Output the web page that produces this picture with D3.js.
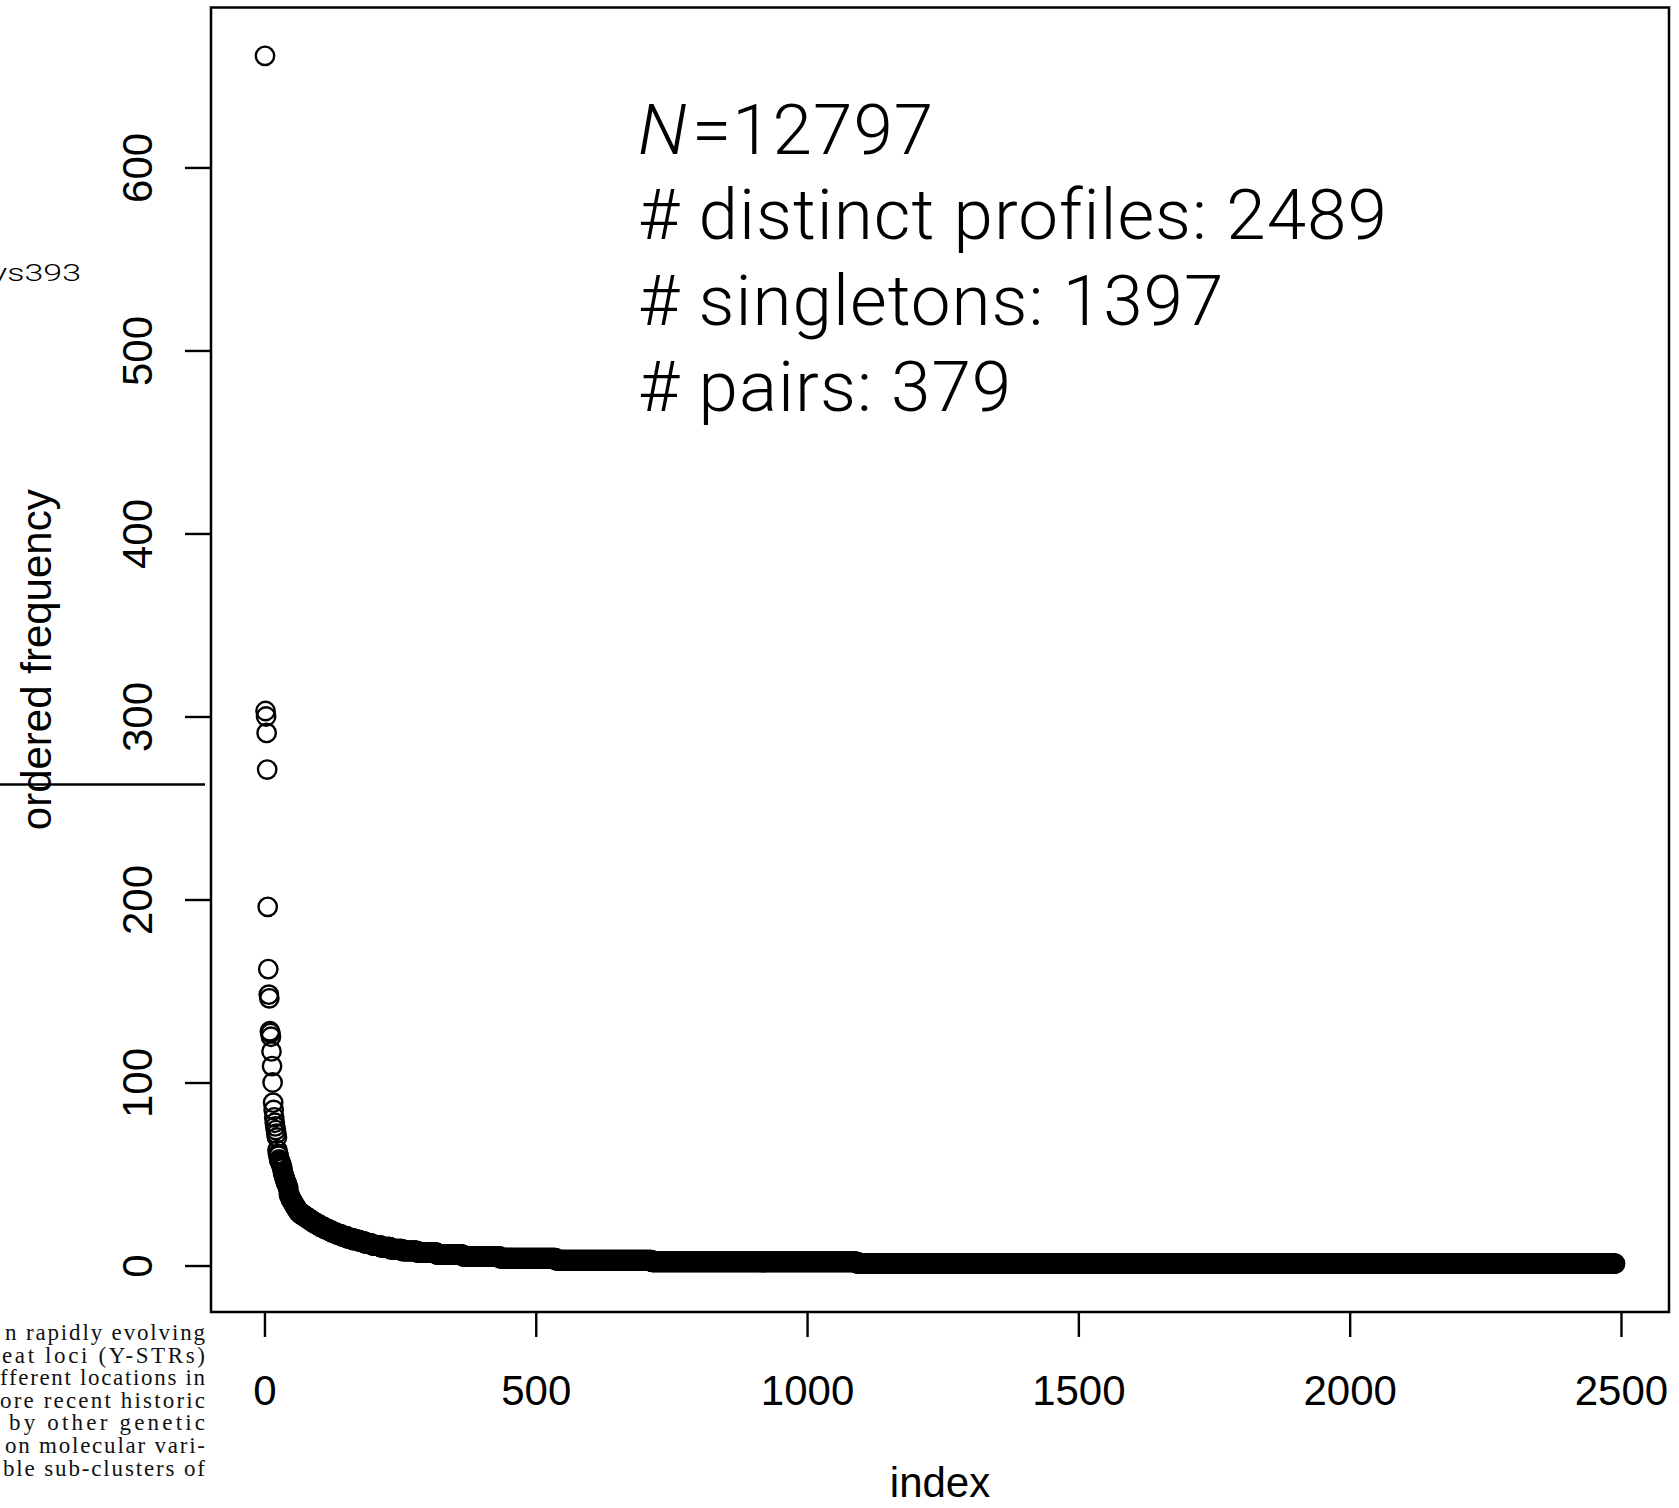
<!DOCTYPE html>
<html>
<head>
<meta charset="utf-8">
<title>ordered frequency</title>
<script src="https://cdn.jsdelivr.net/npm/d3@7"></script>
<style>
  body { margin: 0; background: #fff; }
  svg { display: block; }
</style>
</head>
<body>
<div id="chart"></div>
<script>

// largest profiles
var topFreq = [661, 303, 300, 291, 271, 196, 162, 148, 146, 128, 127, 125, 117, 109,
  100, 89, 85, 81, 78, 76, 74, 72, 70, 63, 61, 60, 58, 57];

// the rest as a frequency table: frequency -> how many profiles have it
var tailFreq = [57, 56, 55, 54, 53, 51, 50, 49, 48, 47, 46, 45, 44, 43, 42, 39, 38, 37,
  36, 35, 34, 33, 32, 31, 30, 29, 28, 27, 26, 25, 24, 23, 22, 21, 20, 19, 18, 17, 16, 15,
  14, 13, 12, 11, 10, 9, 8, 7, 6, 5, 4, 3, 2, 1];
var tailCount = [1, 1, 1, 1, 1, 1, 1, 1, 1, 1, 1, 2, 1, 1, 1, 1, 2, 1,
  2, 2, 2, 2, 2, 2, 2, 4, 5, 5, 5, 5, 5, 6, 6, 7, 7, 7, 8, 9, 10, 11,
  12, 11, 13, 15, 18, 22, 28, 36, 48, 68, 103, 177, 379, 1397];

var xTicks = [0, 500, 1000, 1500, 2000, 2500];
var yTicks = [0, 100, 200, 300, 400, 500, 600];

var notes = ["# distinct profiles: 2489", "# singletons: 1397", "# pairs: 379"];

// bits of the surrounding page that show in the crop
var pageLines = ["n rapidly evolving", "eat loci (Y-STRs)", "fferent locations in",
  "ore recent historic", "by other genetic", "on molecular vari-", "ble sub-clusters of"];
var pageStarts = [5, 2, 0, 0, 9, 5, 3];

var freq = topFreq.slice();
tailFreq.forEach(function(f, i) {
  for (var k = 0; k < tailCount[i]; k++) freq.push(f);
});
var data = freq.map(function(f, i) { return {index: i + 1, freq: f}; });

var W = 1679, H = 1508;
var box = {left: 211, right: 1669, top: 7.5, bottom: 1312};
var sans = "'Liberation Sans', Arial, Helvetica, sans-serif";
var light = "Roboto, 'Liberation Sans', Arial, sans-serif";

var svg = d3.select("#chart").append("svg")
  .attr("width", W)
  .attr("height", H);

// R style 4% padding around the data range
var n = data.length;
var xPad = (n - 1) * 0.04, yMax = d3.max(freq), yPad = (yMax - 1) * 0.04;
var x = d3.scaleLinear().domain([1 - xPad, n + xPad]).range([box.left, box.right]);
var y = d3.scaleLinear().domain([1 - yPad, yMax + yPad]).range([box.bottom, box.top]);

// page fragments
svg.append("text")
  .attr("x", -9).attr("y", 281)
  .attr("textLength", 90)
  .attr("lengthAdjust", "spacingAndGlyphs")
  .style("font-family", light).style("font-weight", 300).style("font-size", "23px")
  .text("ys393");

svg.append("line")
  .attr("x1", 0).attr("x2", 205)
  .attr("y1", 784.5).attr("y2", 784.5)
  .style("stroke", "#000").style("stroke-width", 2.5);

svg.selectAll(".para")
  .data(pageLines)
  .enter().append("text")
    .attr("class", "para")
    .attr("x", function(d, i) { return pageStarts[i]; })
    .attr("y", function(d, i) { return 1340 + i * 22.6; })
    .attr("textLength", function(d, i) { return 205 - pageStarts[i]; })
    .attr("lengthAdjust", "spacing")
    .style("font-family", "'Liberation Serif', 'Times New Roman', serif")
    .style("font-size", "23px")
    .style("fill", "#111")
    .text(function(d) { return d; });

// points
svg.append("g")
  .selectAll("circle")
  .data(data)
  .enter().append("circle")
    .attr("cx", function(d) { return x(d.index); })
    .attr("cy", function(d) { return y(d.freq); })
    .attr("r", 9.2)
    .style("fill", "none")
    .style("stroke", "#000")
    .style("stroke-width", 2.4);

// axes
var xAxis = d3.axisBottom(x).tickValues(xTicks).tickFormat(d3.format("d"))
  .tickSize(25).tickPadding(68).tickSizeOuter(0);
var gx = svg.append("g")
  .attr("transform", "translate(0," + box.bottom + ")")
  .call(xAxis);
gx.select(".domain").remove();
gx.selectAll("line").style("stroke-width", 2.4);
gx.selectAll("text")
  .attr("dy", 0)
  .style("font-family", sans).style("font-size", "42px").style("fill", "#000");

var yAxis = d3.axisLeft(y).tickValues(yTicks).tickFormat(d3.format("d"))
  .tickSize(26).tickSizeOuter(0);
var gy = svg.append("g")
  .attr("transform", "translate(" + box.left + ",0)")
  .call(yAxis);
gy.select(".domain").remove();
gy.selectAll("line").style("stroke-width", 2.4);
gy.selectAll("text")
  .attr("x", 0).attr("dy", 0)
  .attr("transform", "translate(-59,0) rotate(-90)")
  .attr("text-anchor", "middle")
  .style("font-family", sans).style("font-size", "42px").style("fill", "#000");

svg.append("rect")
  .attr("x", box.left).attr("y", box.top)
  .attr("width", box.right - box.left).attr("height", box.bottom - box.top)
  .style("fill", "none").style("stroke", "#000").style("stroke-width", 2.5);

// axis titles
svg.append("text")
  .attr("x", (box.left + box.right) / 2).attr("y", 1497)
  .attr("text-anchor", "middle")
  .style("font-family", sans).style("font-size", "42px")
  .text("index");

svg.append("text")
  .attr("transform", "translate(51," + (box.top + box.bottom) / 2 + ") rotate(-90)")
  .attr("text-anchor", "middle")
  .style("font-family", sans).style("font-size", "42px")
  .text("ordered frequency");

// annotation
var note = svg.append("g")
  .style("font-family", light).style("font-weight", 300)
  .style("font-size", "71px").style("letter-spacing", "1px");
var first = note.append("text").attr("x", 638).attr("y", 154);
first.append("tspan").style("font-style", "italic").text("N");
first.append("tspan").attr("dx", 4).text("=" + d3.sum(freq));
note.selectAll(".line")
  .data(notes)
  .enter().append("text")
    .attr("class", "line")
    .attr("x", 638)
    .attr("y", function(d, i) { return 239 + i * 86; })
    .text(function(d) { return d; });

</script>
</body>
</html>
